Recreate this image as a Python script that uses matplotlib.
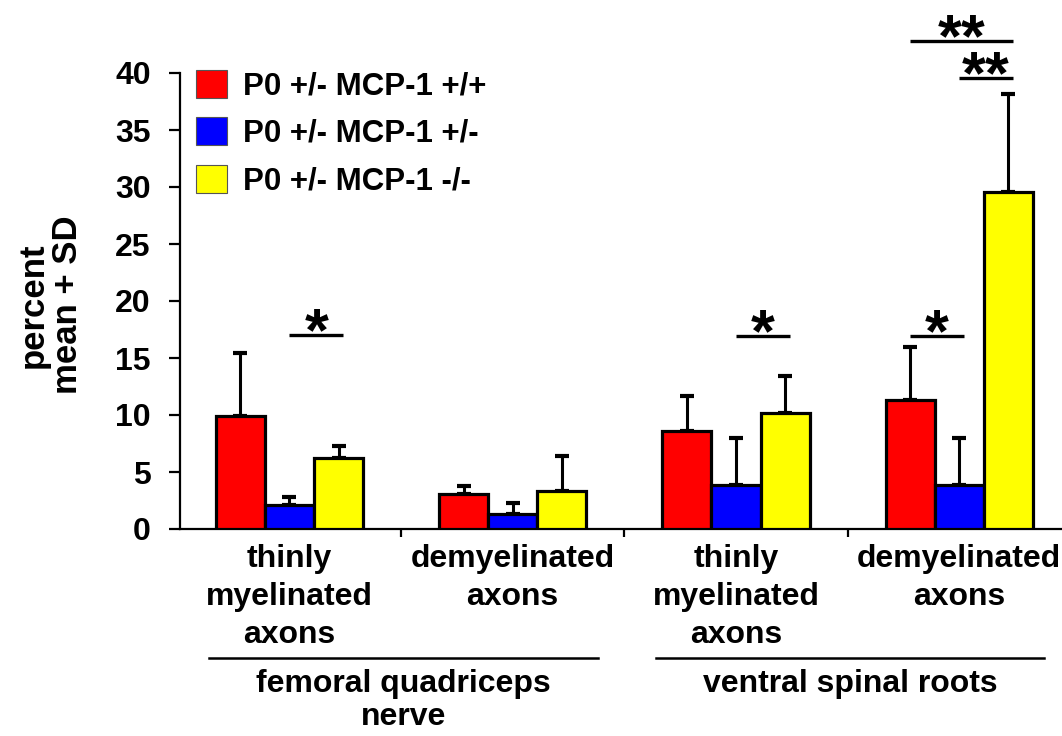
import matplotlib.pyplot as plt
import numpy as np
from matplotlib.patches import Patch

plt.rcParams['font.family'] = ['Liberation Sans', 'DejaVu Sans']
plt.rcParams['font.weight'] = 'bold'

categories = ['thinly\nmyelinated\naxons', 'demyelinated\naxons',
              'thinly\nmyelinated\naxons', 'demyelinated\naxons']
groups = ['femoral quadriceps\nnerve', 'ventral spinal roots']
series = ['P0 +/- MCP-1 +/+', 'P0 +/- MCP-1 +/-', 'P0 +/- MCP-1 -/-']
colors = ['#ff0000', '#0000ff', '#ffff00']

mean_wt = [9.9, 3.1, 8.6, 11.3]
mean_het = [2.1, 1.3, 3.9, 3.9]
mean_ko = [6.2, 3.3, 10.2, 29.6]
sd_wt = [5.5, 0.7, 3.1, 4.7]
sd_het = [0.7, 1.0, 4.1, 4.1]
sd_ko = [1.1, 3.1, 3.2, 8.6]

# (category, first series, second series, level, label)
signif = [(0, 1, 2, 17.0, '*'), (2, 1, 2, 16.9, '*'), (3, 0, 1, 16.9, '*'),
          (3, 0, 2, 42.8, '**'), (3, 1, 2, 39.6, '**')]

means = [mean_wt, mean_het, mean_ko]
sds = [sd_wt, sd_het, sd_ko]

fig = plt.figure(figsize=(10.62, 7.36), dpi=100)
ax = fig.add_axes([180 / 1062, 1 - 529 / 736, 1 - 180 / 1062, (529 - 73) / 736])

x = np.arange(len(categories))
w = 0.22
for i in range(3):
    pos = x + (i - 1) * w
    ax.bar(pos, means[i], width=w, color=colors[i], edgecolor='black',
           linewidth=2.3, zorder=3)
    ax.errorbar(pos, means[i], yerr=[np.zeros(len(x)), sds[i]], fmt='none',
                ecolor='black', elinewidth=2.2, capsize=5, capthick=3, zorder=2)

for c, a, b, lev, lab in signif:
    x0 = c + (a - 1) * w
    x1 = c + (b - 1) * w + 0.02
    ax.plot([x0, x1], [lev, lev], color='black', lw=2.4, clip_on=False,
            solid_capstyle='butt')
    ax.annotate(lab, ((x0 + x1) / 2, lev), xytext=(0, -11), textcoords='offset points',
                ha='center', va='baseline', fontsize=44, annotation_clip=False)

ax.set_ylim(0, 40)
ax.set_xlim(-0.49, 3.46)
ax.set_yticks(np.arange(0, 41, 5))
ax.tick_params(axis='y', labelsize=23, length=8, width=1.6, pad=13)
ax.set_xticks(x)
ax.set_xticklabels(categories, fontsize=23, linespacing=1.35)
ax.tick_params(axis='x', length=0, pad=11)
ax.set_xticks([0.5, 1.5, 2.5], minor=True)
ax.tick_params(axis='x', which='minor', length=6, width=1.6)
for s in ['top', 'right']:
    ax.spines[s].set_visible(False)
for s in ['left', 'bottom']:
    ax.spines[s].set_linewidth(1.6)

fig.text(50 / 1062, 1 - 305 / 736, 'percent\nmean + SD', rotation=90,
         ha='center', va='center', fontsize=25, linespacing=1.05)

# group brackets under the category labels
for g, (a, b) in enumerate([(0, 1), (2, 3)]):
    xa, xb = a - 0.36, b + 0.38
    ax.plot([xa, xb], [-11.3, -11.3], color='black', lw=1.8, clip_on=False)
    ax.text((xa + xb) / 2, -12.3, groups[g], ha='center', va='top',
            fontsize=23, linespacing=1.1)

handles = [Patch(facecolor=colors[i], edgecolor='#555555', linewidth=0.8) for i in range(3)]
ax.legend(handles, series, loc='upper left', bbox_to_anchor=(196 / 1062, 1 - 70 / 736),
          bbox_transform=fig.transFigure, frameon=False, fontsize=22.5,
          handlelength=1.0, handleheight=1.0, handletextpad=0.5, labelspacing=0.5,
          borderpad=0, borderaxespad=0)

fig.savefig('out.png', dpi=100)
